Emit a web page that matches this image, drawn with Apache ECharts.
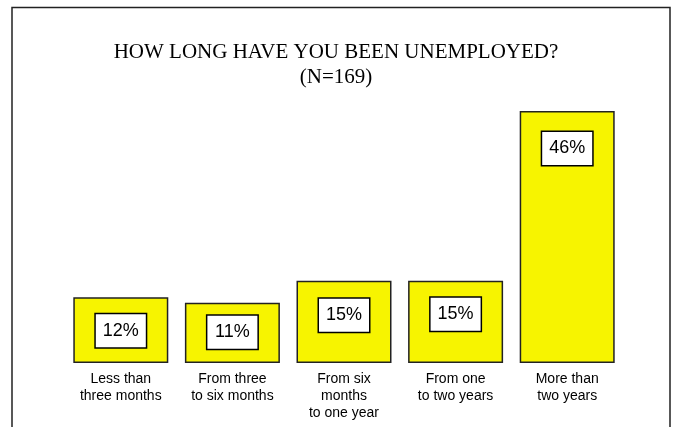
<!DOCTYPE html>
<html>
<head>
<meta charset="utf-8">
<script src="https://cdn.jsdelivr.net/npm/echarts@6/dist/echarts.min.js"></script>
<style>
  html, body { margin: 0; padding: 0; background: #fff; }
  #chart { width: 675px; height: 427px; }
</style>
</head>
<body>
<div id="chart"></div>
<script>
// Survey: duration of unemployment
const titleText = 'HOW LONG HAVE YOU BEEN UNEMPLOYED?';
const sampleText = '(N=169)';
const categories = [
  'Less than\nthree months',
  'From three\nto six months',
  'From six\nmonths\nto one year',
  'From one\nto two years',
  'More than\ntwo years'
];
const percents = [12, 11, 15, 15, 46];

// gap between each bar's top edge and its value box
const labelGap = [17, 13, 18, 17, 21];

const chart = echarts.init(document.getElementById('chart'), null, { renderer: 'canvas' });

const seriesData = percents.map((v, i) => ({
  value: v,
  label: { distance: labelGap[i] }
}));

chart.setOption({
  animation: false,
  backgroundColor: '#ffffff',
  title: {
    text: titleText + '\n' + sampleText,
    left: 331,
    top: 35,
    textAlign: 'center',
    textStyle: {
      fontFamily: '"Liberation Serif", "Times New Roman", serif',
      fontSize: 21,
      fontWeight: 'normal',
      color: '#000',
      lineHeight: 25
    }
  },
  graphic: [{
    type: 'polyline',
    shape: { points: [[12, 430], [12, 7.5], [670, 7.5], [670, 430]] },
    style: { stroke: '#222', lineWidth: 1.5, fill: null },
    silent: true
  }],
  grid: { left: 65, right: 52, top: 89, bottom: 64, containLabel: false },
  xAxis: {
    type: 'category',
    data: categories,
    axisLine: { show: false },
    axisTick: { show: false },
    axisLabel: {
      interval: 0,
      margin: 8,
      fontFamily: '"Liberation Sans", Arial, sans-serif',
      fontSize: 14,
      lineHeight: 17,
      color: '#000'
    }
  },
  yAxis: {
    type: 'value',
    min: 0,
    max: 50,
    show: false,
    splitLine: { show: false }
  },
  series: [{
    type: 'bar',
    data: seriesData,
    barWidth: 95,
    itemStyle: { color: '#F7F400', borderColor: '#222', borderWidth: 1.5 },
    label: {
      show: true,
      position: 'insideTop',
      formatter: '{c}%',
      fontFamily: '"Liberation Sans", Arial, sans-serif',
      fontSize: 18,
      color: '#000',
      backgroundColor: '#fff',
      borderColor: '#000',
      borderWidth: 1.5,
      width: 48,
      align: 'center',
      lineHeight: 19,
      padding: [7, 1]
    }
  }]
});
</script>
</body>
</html>
